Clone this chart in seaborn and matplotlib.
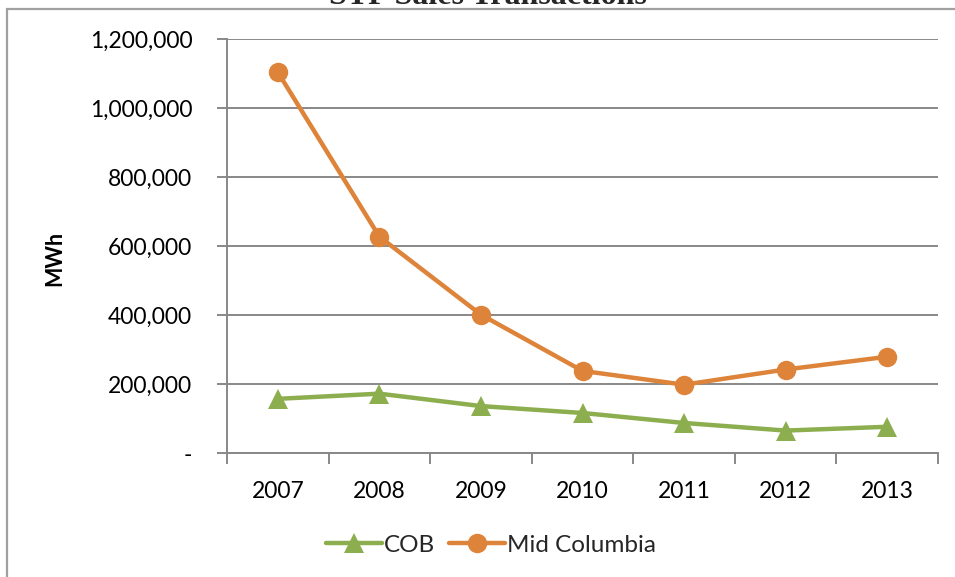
import matplotlib
matplotlib.use("Agg")
import matplotlib.pyplot as plt
from matplotlib.patches import Rectangle
from matplotlib.ticker import FuncFormatter, FixedLocator
import seaborn as sns
import pandas as pd

years = ["2007", "2008", "2009", "2010", "2011", "2012", "2013"]
cob = [157000, 172000, 136000, 116000, 87000, 65000, 76000]
mid_columbia = [1104000, 627000, 401000, 238000, 198000, 242000, 279000]

title = "STF Sales Transactions"
y_label = "MWh"

green = "#8CAE4E"
orange = "#DE843A"
grid_gray = "#888888"

sns.set_theme(style="white")
plt.rcParams["font.family"] = ["Lato", "DejaVu Sans"]

fig = plt.figure(figsize=(9.55, 5.77), dpi=100)
ax = fig.add_axes([227 / 955, 1 - 453 / 577, 711 / 955, 414 / 577])

df = pd.DataFrame({"Year": years, "COB": cob, "Mid Columbia": mid_columbia})

sns.lineplot(data=df, x="Year", y="COB", ax=ax, color=green, linewidth=3.2,
             marker="^", markersize=15, markeredgewidth=0, label="COB", sort=False)
sns.lineplot(data=df, x="Year", y="Mid Columbia", ax=ax, color=orange, linewidth=3.2,
             marker="o", markersize=14, markeredgewidth=0, label="Mid Columbia", sort=False)

ax.set_xlim(-0.5, len(years) - 0.5)
ax.set_ylim(0, 1200000)
ax.yaxis.set_major_locator(FixedLocator(range(0, 1200001, 200000)))
ax.yaxis.set_major_formatter(FuncFormatter(lambda v, p: "-" if v == 0 else f"{int(v):,}"))

ax.grid(axis="y", color=grid_gray, linewidth=1.4)
ax.set_axisbelow(True)

for side in ["top", "right"]:
    ax.spines[side].set_visible(False)
for side in ["left", "bottom"]:
    ax.spines[side].set_color(grid_gray)
    ax.spines[side].set_linewidth(1.4)

ax.tick_params(axis="y", which="major", left=True, length=7, width=1.4,
               color=grid_gray, pad=18, labelsize=16.5, labelcolor="black")
# Category labels sit between tick marks placed at the category boundaries
ax.set_xticks(range(len(years)))
ax.set_xticklabels(years)
ax.set_xticks([i - 0.5 for i in range(len(years) + 1)], minor=True)
ax.tick_params(axis="x", which="major", bottom=False, length=0, pad=20,
               labelsize=16.5, labelcolor="black")
ax.tick_params(axis="x", which="minor", bottom=True, length=8, width=1.4,
               color=grid_gray)

ax.set_xlabel("")
ax.set_ylabel(y_label, fontsize=15.5, fontweight="bold", color="black")
ax.yaxis.set_label_coords(-0.228, 0.47)

handles, labels = ax.get_legend_handles_labels()
ax.legend(handles, labels, loc="center", bbox_to_anchor=(491 / 955, 1 - 545 / 577),
          bbox_transform=fig.transFigure, ncol=2, frameon=False, fontsize=17.5,
          handlelength=2.3, handletextpad=0.05, columnspacing=0.6)

# Chart frame, running off the right and bottom edges
fig.patches.append(Rectangle((7 / 955, -0.2), 1.2, 1.2 - 9 / 577,
                             transform=fig.transFigure, fill=False,
                             edgecolor="#A0A0A0", linewidth=1.6))

fig.text(488 / 955, 1 - 4 / 577, title, ha="center", va="baseline",
         fontsize=23, fontweight="bold", family=["Liberation Serif", "DejaVu Serif"])

fig.savefig("out.png", dpi=100)
